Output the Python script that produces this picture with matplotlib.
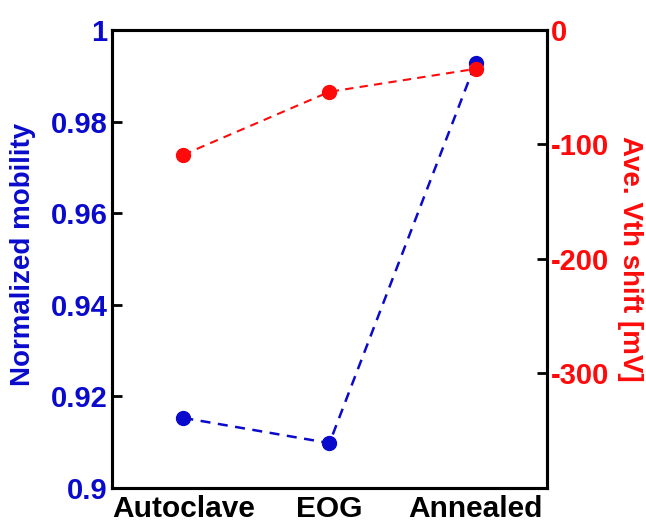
import matplotlib.pyplot as plt

plt.rcParams['font.family'] = ['Liberation Sans', 'DejaVu Sans']
plt.rcParams['font.weight'] = 'bold'
plt.rcParams['axes.labelweight'] = 'bold'
plt.rcParams['axes.unicode_minus'] = False

# данные
categories = ['Autoclave', 'EOG', 'Annealed']
mobility = [0.9153, 0.9098, 0.9928]
vth_shift = [-109, -54, -34]

blue = '#0A0ACC'
red = '#FF0A0A'

fig = plt.figure(figsize=(6.46, 5.25), dpi=100)
ax = fig.add_axes([0.173, 0.0705, 0.674, 0.8725])
ax2 = ax.twinx()

x = range(1, len(categories) + 1)
ax.plot(x, mobility, '--o', color=blue, lw=1.8, ms=10, dashes=(4, 3))
ax2.plot(x, vth_shift, '--o', color=red, lw=1.5, ms=10, dashes=(4, 3))

ax.set_xlim(0.51, 3.49)
ax.set_ylim(0.9, 1.0)
ax.set_yticks([0.9, 0.92, 0.94, 0.96, 0.98, 1.0])
ax.set_yticklabels(['0.9', '0.92', '0.94', '0.96', '0.98', '1'])
ax2.set_ylim(-400, 0)
ax2.set_yticks([-300, -200, -100, 0])

ax.set_xticks(list(x))
ax.set_xticklabels(categories, fontsize=21.5)
ax.tick_params(axis='x', length=0, pad=5)
ax.tick_params(axis='y', direction='in', length=7, width=2, labelsize=21,
               labelcolor=blue, pad=3)
ax2.tick_params(axis='y', direction='in', length=7, width=2, labelsize=21,
                labelcolor=red, pad=3)

for a in (ax, ax2):
    for s in a.spines.values():
        s.set_linewidth(2.2)

ax.set_ylabel('Normalized mobility', color=blue, fontsize=20,
              ha='center', va='center')
ax.yaxis.set_label_coords(-0.205, 0.51)
ax2.set_ylabel('Ave. Vth shift [mV]', color=red, fontsize=20, rotation=270,
               ha='center', va='center')
ax2.yaxis.set_label_coords(1.19, 0.5)

fig.savefig('out.png', dpi=100)
